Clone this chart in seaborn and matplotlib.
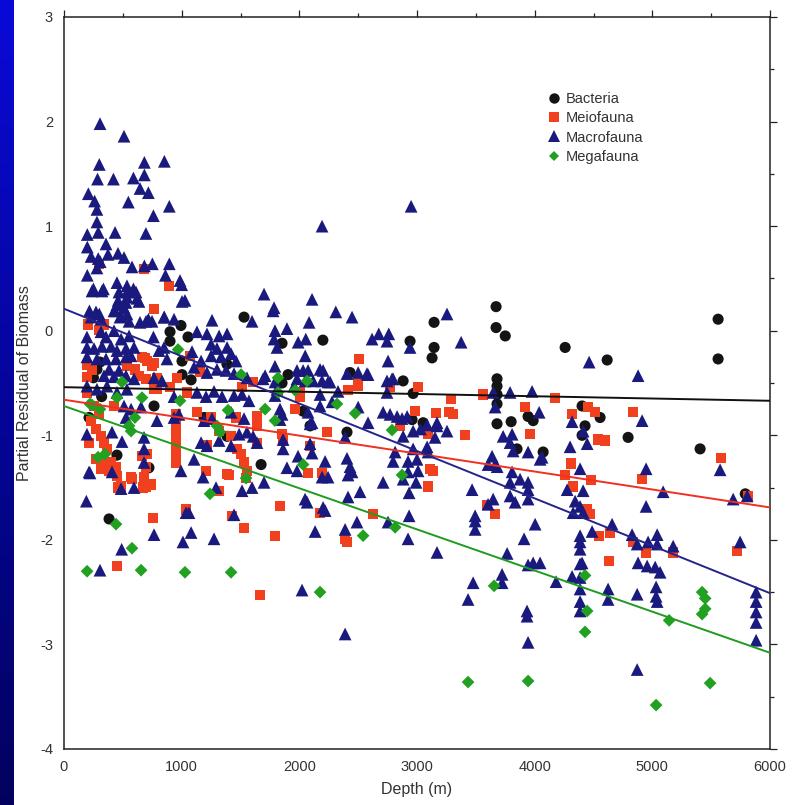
import numpy as np
import pandas as pd
import matplotlib
matplotlib.use("Agg")
import matplotlib.pyplot as plt
import seaborn as sns
from matplotlib.ticker import MultipleLocator
from matplotlib.lines import Line2D
from matplotlib.colors import LinearSegmentedColormap

sns.set_style("white")
plt.rcParams['font.family'] = ['Liberation Sans', 'DejaVu Sans']
plt.rcParams['axes.unicode_minus'] = False

# ---------------- data (depth m, partial residual) ----------------
bact_depth = [306, 250, 320, 213, 450, 383, 722, 765, 901, 994, 1054, 901, 1003, 1080, 1003, 1190, 1386,
              1385, 1530, 1675, 1853, 1904, 1853, 2032, 2091, 2200, 2405, 2431, 2882, 2941, 2958, 2967,
              3052, 3128, 3145, 3145, 3672, 3672, 3750, 3680, 3680, 3680, 3680, 3680, 3800, 3944, 3987,
              3850, 4072, 4259, 4403, 4428, 4403, 4556, 4616, 4794, 5406, 5559, 5559, 5790, 280]
bact_value = [-0.30, -0.45, -0.63, -0.83, -1.19, -1.80, -1.31, -0.72, -0.01, 0.05, -0.06, -0.10, -0.29, -0.47,
              -0.42, -0.83, -1.01, -0.32, 0.13, -1.28, -0.12, -0.42, -0.50, -0.77, -0.91, -0.09, -0.97, -0.40,
              -0.48, -0.10, -0.85, -0.60, -0.88, -0.26, 0.08, -0.16, 0.23, 0.03, -0.05, -0.46, -0.53, -0.61,
              -0.70, -0.89, -0.87, -0.82, -0.86, -1.13, -1.16, -0.16, -0.72, -0.91, -1.00, -0.83, -0.28, -1.02,
              -1.13, 0.11, -0.27, -1.56, -0.37]

meio_depth = [300, 683, 895, 765, 207, 340, 300, 2507, 690, 760, 603, 535, 194, 238, 195, 790, 900, 1513,
              1156, 1071, 1607, 2499, 2414, 663, 705, 748, 637, 697, 790, 960, 765, 1045, 1640, 1640,
              952, 952, 952, 952, 952, 952, 425, 230, 272, 314, 213, 340, 365, 272, 323, 400, 314, 383,
              442, 450, 570, 680, 663, 705, 697, 1207, 1215, 1318, 1420, 1470, 1505, 1530, 1555, 1640,
              1462, 1386, 1130, 1250, 485, 697, 740, 1403, 1547, 1318, 757, 1037, 1428, 1530, 450, 1666,
              1793, 1836, 2176, 2389, 2406, 2627, 2074, 2193, 2235, 1964, 1853, 1862, 578, 459, 672,
              2984, 3162, 3272, 3306, 3289, 3562, 3918, 4174, 4454, 4514, 4318, 4837, 3408, 3961, 3094,
              4539, 4599, 3111, 3137, 3094, 4259, 4310, 4327, 4480, 4913, 3596, 3664, 4446, 4471, 4548,
              4641, 4837, 4947, 4633, 5177, 5585, 5814, 5721, 2006, 2006, 2500, 2771, 3009, 2856, 2091,
              195, 255, 300]
meio_value = [0.64, 0.59, 0.43, 0.21, 0.06, 0.06, 0.01, -0.27, -0.26, -0.31, -0.37, -0.34, -0.33, -0.37,
              -0.44, -0.56, -0.54, -0.54, -0.39, -0.24, -0.49, -0.53, -0.57, -0.25, -0.29, -0.34, -0.43,
              -0.46, -0.45, -0.45, -0.56, -0.59, -0.82, -0.91, -0.80, -0.87, -0.97, -1.06, -1.16, -1.26,
              -0.72, -0.86, -0.94, -1.01, -1.07, -1.07, -1.13, -1.23, -1.23, -1.26, -1.32, -1.34, -1.30,
              -1.39, -1.40, -1.40, -1.20, -1.18, -1.30, -1.34, -1.09, -0.96, -1.01, -1.13, -1.18, -1.26,
              -1.34, -1.07, -0.83, -1.37, -0.78, -0.83, -1.49, -1.49, -1.47, -1.38, -1.41, -1.53, -1.79,
              -1.71, -1.77, -1.89, -2.25, -2.53, -1.96, -1.68, -1.74, -1.99, -2.02, -1.75, -1.36, -1.36,
              -0.97, -0.75, -0.99, -1.05, -1.42, -1.50, -1.50, -0.77, -0.79, -0.78, -0.80, -0.65, -0.61,
              -0.73, -0.64, -0.73, -0.78, -0.80, -0.78, -1.00, -0.99, -0.99, -1.04, -1.05, -1.32, -1.34,
              -1.49, -1.38, -1.27, -1.49, -1.43, -1.42, -1.67, -1.75, -1.71, -1.75, -1.96, -1.93, -2.02,
              -2.12, -2.20, -2.12, -1.22, -1.58, -2.11, -0.59, -0.63, -0.51, -0.54, -0.54, -0.91, -1.10,
              -0.59, -0.72, -0.80]

macro_depth = [306, 510, 300, 285, 420, 590, 683, 683, 853, 646, 717, 547, 895, 207, 260, 280, 760, 280,
               198, 291, 434, 696, 198, 357, 230, 291, 374, 459, 510, 198, 280, 308, 578, 683, 751, 895,
               862, 986, 1000, 1028, 250, 335, 450, 535, 590, 460, 535, 620, 434, 510, 216, 300, 476, 646,
               717, 853, 1258, 760, 1700, 1785, 1895, 2108, 2193, 2083, 2310, 2448, 2618, 2675, 2760,
               2754, 1793, 1785, 1810, 1990, 2055, 2050, 1793,
               238, 323, 467, 535, 612, 1003, 450, 527, 637, 272, 230, 314, 425, 485, 535, 553, 697, 748,
               850, 935, 195, 314, 357, 425, 485, 553, 1130, 1215, 1318, 1386,
               195, 255, 323, 400, 450, 527, 595, 807, 850, 1250, 1300, 1386,
               195, 280, 357, 442, 527, 570, 875, 1088, 1165, 1250, 1335, 1420, 1462,
               383, 467, 340, 425, 527, 595, 765, 833, 1105, 1215, 1300, 1377, 1445, 1555,
               195, 280, 365, 450, 535, 935, 1130, 1207, 1275, 1343, 1445, 1513, 1572,
               510, 570, 655, 527, 935, 977, 1190, 1258, 1420, 1530,
               195, 408, 493, 680, 790, 680, 680, 1105, 1165, 1215, 1318, 1420, 1488, 1555, 1640,
               213, 408, 994,
               221, 485, 595, 190, 1182, 1292, 1513, 1598, 1700, 1037, 1062, 1445, 765, 1080, 1011, 1275,
               490, 306, 2023, 2389, 2134, 2389, 2490, 2049, 2066, 2202, 2219, 2414, 2516, 2712, 1895,
               1980, 2219, 2193, 2244, 2405, 2431, 2414, 2389, 2091,
               1777, 3255, 1598, 2745, 2941, 1709, 1980, 2032, 2074, 2176, 2202, 2261, 2405, 2500, 2584,
               2788, 1793, 1810, 1793, 1980, 2176, 2329, 2745, 1836, 1853, 1836, 2074, 2108, 2176, 2278,
               2500, 2584, 2712, 2771, 2831, 2873, 2916, 3086, 3170, 1607, 2882, 2967, 3030, 1862, 1862,
               2091, 2108, 2814, 2797, 2967, 3000, 3009, 2924, 1989, 3086, 3094,
               1692, 1955, 2049, 2117, 2193, 2244, 2575, 2745, 2797,
               2448, 2754, 2882, 2992, 2933, 2933, 2924, 3170,
               3375, 4463, 4879, 3647, 3791, 3978, 3664, 4038, 4318, 4412, 4446, 3255, 3732, 3808, 3791,
               3817, 3944, 4046, 4301, 3638, 3604, 3664, 4386, 3808, 3876, 2950,
               3170, 3153, 2924,
               3468, 3647, 3604, 3494, 3494, 3494, 3791, 3791, 3834, 3944, 3944, 3944, 4004, 3910, 3766,
               3944, 3987, 4046, 3723, 3723, 3477, 3434, 4182, 4318, 4386, 4386, 4386, 4386, 3935, 3935,
               3944, 4386, 4386, 4386, 4403, 4276, 4344, 4386, 4412, 4327, 4412, 4488, 4658, 4624, 4624,
               4828, 4871, 4871, 4871, 4386,
               4913, 4947, 4947, 5092, 5576, 5687, 5746, 5806, 4964, 5041, 5041, 5177, 4879, 4956, 5024,
               5066, 5032, 5032, 5041, 5882, 5882, 5882, 5882, 5882, 4063, 3681]
macro_value = [1.98, 1.86, 1.59, 1.45, 1.45, 1.46, 1.61, 1.49, 1.62, 1.36, 1.32, 1.23, 1.19, 1.31, 1.24, 1.16,
               1.10, 1.04, 0.92, 0.94, 0.94, 0.93, 0.80, 0.83, 0.71, 0.69, 0.73, 0.74, 0.70, 0.53, 0.60,
               0.66, 0.61, 0.62, 0.64, 0.64, 0.53, 0.48, 0.44, 0.29, 0.40, 0.40, 0.46, 0.43, 0.40, 0.29,
               0.32, 0.31, 0.19, 0.22, 0.19, 0.16, 0.13, 0.08, 0.11, 0.13, 0.10, -0.06, 0.35, 0.22, 0.02,
               0.30, 1.00, 0.08, 0.18, 0.13, -0.08, -0.03, -0.03, -0.29, 0.00, -0.08, -0.16, -0.11, -0.08,
               -0.24, -0.34,
               0.38, 0.38, 0.37, 0.37, 0.37, 0.28, 0.25, 0.27, 0.28, 0.18, 0.13, 0.11, 0.19, 0.14, 0.16,
               0.09, 0.09, 0.09, 0.13, 0.11, -0.06, -0.01, -0.06, 0.00, -0.08, -0.05, -0.01, -0.03, -0.05,
               -0.03,
               -0.16, -0.17, -0.15, -0.15, -0.19, -0.17, -0.16, -0.19, -0.16, -0.13, -0.17, -0.16,
               -0.25, -0.27, -0.27, -0.27, -0.25, -0.24, -0.27, -0.20, -0.29, -0.24, -0.25, -0.22, -0.29,
               -0.37, -0.38, -0.43, -0.44, -0.43, -0.46, -0.45, -0.48, -0.35, -0.40, -0.37, -0.38, -0.41,
               -0.45,
               -0.53, -0.56, -0.53, -0.59, -0.56, -0.63, -0.59, -0.63, -0.58, -0.63, -0.62, -0.61, -0.67,
               -0.72, -0.75, -0.73, -0.83, -0.83, -0.80, -0.86, -0.84, -0.78, -0.84,
               -0.99, -0.97, -1.06, -1.02, -0.86, -1.13, -1.26, -1.23, -1.07, -1.10, -1.05, -1.10, -0.99,
               -0.97, -1.07,
               -1.35, -1.35, -1.34,
               -1.36, -1.51, -1.50, -1.63, -1.40, -1.50, -1.53, -1.50, -1.45, -1.74, -1.74, -1.76, -1.95,
               -1.93, -2.02, -1.99, -2.09, -2.29, -2.48, -2.90, -1.92, -1.90, -1.83, -1.61, -1.64, -1.69,
               -1.72, -1.59, -1.54, -1.45, -1.31, -1.34, -1.25, -1.40, -1.40, -1.22, -1.30, -1.38, -1.02,
               -0.89,
               0.19, 0.16, 0.09, -0.10, -0.16, -0.43, -0.38, -0.38, -0.38, -0.37, -0.38, -0.49, -0.41,
               -0.40, -0.42, -0.46, -0.49, -0.56, -0.62, -0.46, -0.61, -0.58, -0.59, -0.75, -0.80, -0.85,
               -0.78, -0.88, -0.72, -0.68, -0.73, -0.88, -0.78, -0.80, -0.82, -0.84, -0.82, -0.90, -0.91,
               -1.01, -1.01, -0.96, -0.94, -1.04, -1.13, -1.08, -1.17, -1.16, -1.25, -1.13, -1.23, -1.34,
               -1.35, -1.20, -1.11, -1.16,
               -0.46, -0.53, -0.48, -0.48, -0.48, -0.49, -0.41, -0.48, -0.46,
               -1.35, -1.83, -1.42, -1.45, -1.55, -1.77, -1.99, -2.12,
               -0.11, -0.30, -0.43, -0.59, -0.59, -0.58, -0.73, -0.78, -0.87, -0.96, -1.08, -0.96, -1.01,
               -0.99, -1.07, -1.15, -1.16, -1.23, -1.11, -1.20, -1.28, -1.28, -1.32, -1.35, -1.42, 1.19,
               -0.88, -1.02, -1.25,
               -1.52, -1.61, -1.66, -1.77, -1.82, -1.90, -1.45, -1.58, -1.64, -1.45, -1.52, -1.61, -1.85,
               -1.99, -2.13, -2.24, -2.22, -2.22, -2.33, -2.41, -2.41, -2.57, -2.40, -2.35, -2.36, -2.47,
               -2.59, -2.68, -2.68, -2.73, -2.98, -2.09, -2.02, -1.96, -2.22, -1.52, -1.63, -1.68, -1.53,
               -1.74, -1.74, -1.92, -1.85, -2.47, -2.57, -1.95, -2.04, -2.52, -3.24, -2.23,
               -0.86, -1.32, -1.68, -1.54, -1.33, -1.61, -2.02, -1.58, -2.02, -1.95, -2.04, -2.06, -2.22,
               -2.25, -2.26, -2.31, -2.45, -2.54, -2.59, -2.50, -2.59, -2.69, -2.79, -2.96, -1.21, -1.30]

mega_depth = [442, 578, 196, 655, 1028, 1420, 1241, 1547, 2176, 2542, 2814, 2032, 1793, 1709, 1394, 1300,
              1326, 2474, 2320, 986, 603, 553, 570, 306, 221, 289, 348, 2788, 969, 493, 663, 450, 238,
              1505, 1819, 1819, 2066, 1964, 2873, 4428, 3655, 4446, 4428, 3434, 3944, 5032, 5491, 5143,
              5423, 5449, 5449, 5423]
mega_value = [-1.85, -2.08, -2.30, -2.29, -2.31, -2.31, -1.56, -1.41, -2.50, -1.96, -1.88, -1.28, -0.86,
              -0.75, -0.76, -0.91, -0.97, -0.79, -0.70, -0.67, -0.83, -0.91, -0.96, -0.75, -0.70, -1.21,
              -1.18, -0.95, -0.18, -0.49, -0.64, -0.64, -0.71, -0.42, -0.45, -0.59, -0.48, -0.57, -1.38,
              -2.34, -2.44, -2.68, -2.88, -3.36, -3.35, -3.58, -3.37, -2.77, -2.50, -2.56, -2.66, -2.71]

groups = ["Bacteria", "Meiofauna", "Macrofauna", "Megafauna"]
fit_intercept = [-0.54, -0.66, 0.21, -0.72]    # value at depth 0
fit_end = [-0.67, -1.69, -2.51, -3.08]          # value at depth 6000
fit_depths = [0, 6000]

colors = {"Bacteria": "#141414", "Meiofauna": "#f0401e", "Macrofauna": "#1a1a7e", "Megafauna": "#22a022"}
line_colors = {"Bacteria": "#101010", "Meiofauna": "#f03020", "Macrofauna": "#24248a", "Megafauna": "#1f9c1f"}
markers = {"Bacteria": "o", "Meiofauna": "s", "Macrofauna": "^", "Megafauna": "D"}
msizes = {"Bacteria": 64, "Meiofauna": 54, "Macrofauna": 84, "Megafauna": 42}

data = {
    "Bacteria": (bact_depth, bact_value),
    "Meiofauna": (meio_depth, meio_value),
    "Macrofauna": (macro_depth, macro_value),
    "Megafauna": (mega_depth, mega_value),
}

# ---------------- figure ----------------
W, H = 795, 805
fig = plt.figure(figsize=(W / 100, H / 100), dpi=100)
fig.patch.set_facecolor("white")

# blue gradient strip on the left
strip = fig.add_axes([0, 0, 14 / W, 1])
grad = np.linspace(0, 1, 256).reshape(-1, 1)
cmap = LinearSegmentedColormap.from_list("strip", ["#0a0ad8", "#05059a", "#02025e"])
strip.imshow(grad, aspect="auto", cmap=cmap, extent=[0, 1, 0, 1], origin="upper")
strip.set_axis_off()

ax = fig.add_axes([64 / W, 1 - 749 / H, (770 - 64) / W, (749 - 17) / H])
ax.set_facecolor("white")

handles = []
for g in groups:
    d, v = data[g]
    df = pd.DataFrame({"Depth": d, "Residual": v})
    sns.scatterplot(data=df, x="Depth", y="Residual", marker=markers[g], s=msizes[g],
                    color=colors[g], edgecolor="none", linewidth=0, ax=ax, zorder=3, legend=False)
    handles.append(Line2D([0], [0], marker=markers[g], linestyle="none", color=colors[g],
                          markersize={"o": 7.5, "s": 7, "^": 8, "D": 5.5}[markers[g]],
                          markeredgewidth=0, label=g))

for i, g in enumerate(groups):
    lf = pd.DataFrame({"Depth": fit_depths, "Residual": [fit_intercept[i], fit_end[i]]})
    sns.lineplot(data=lf, x="Depth", y="Residual", color=line_colors[g], linewidth=1.4, ax=ax, zorder=4)

ax.set_xlim(0, 6000)
ax.set_ylim(-4, 3)
ax.xaxis.set_major_locator(MultipleLocator(1000))
ax.xaxis.set_minor_locator(MultipleLocator(500))
ax.yaxis.set_major_locator(MultipleLocator(1))
ax.yaxis.set_minor_locator(MultipleLocator(0.5))
ax.tick_params(which="both", direction="out", top=True, right=True, labeltop=False, labelright=False,
               color="#222222", width=0.9)
ax.tick_params(which="major", length=5, labelsize=10.5, labelcolor="#333333", pad=3)
ax.tick_params(which="minor", length=3)
for sp in ax.spines.values():
    sp.set_color("#222222")
    sp.set_linewidth(1.1)

ax.set_xlabel("Depth (m)", fontsize=11.5, color="#333333", labelpad=6)
ax.set_ylabel("Partial Residual of Biomass", fontsize=11.5, color="#333333", labelpad=6)

leg = ax.legend(handles=handles, loc="upper left", bbox_to_anchor=(0.675, 0.905), frameon=False,
                fontsize=10.5, handletextpad=0.3, labelspacing=0.35, borderaxespad=0, handlelength=1.0)
for t in leg.get_texts():
    t.set_color("#333333")

fig.savefig("out.png", dpi=100, facecolor="white")
